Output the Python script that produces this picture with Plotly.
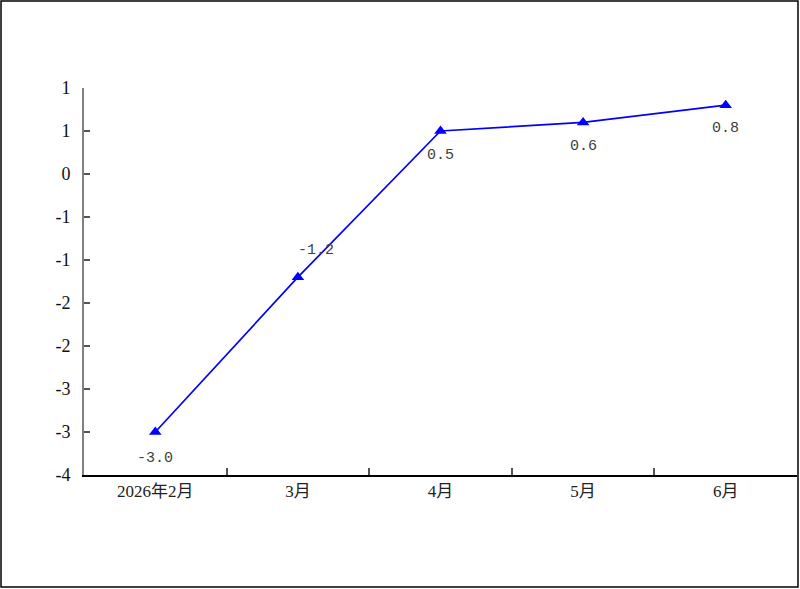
import plotly.graph_objects as go

months = ["2026年2月", "3月", "4月", "5月", "6月"]
values = [-3.0, -1.2, 0.5, 0.6, 0.8]
y_tickvals = [1.0, 0.5, 0.0, -0.5, -1.0, -1.5, -2.0, -2.5, -3.0, -3.5]
y_ticktext = ["1", "1", "0", "-1", "-1", "-2", "-2", "-3", "-3", "-4"]

# label offsets (px) relative to each point
label_shift = [(0, -26), (18, 27), (0, -24), (0, -24), (0, -23)]

fig = go.Figure()

fig.add_trace(go.Scatter(
    x=months,
    y=values,
    mode="lines+markers",
    line=dict(color="#0000FF", width=1.7),
    marker=dict(symbol="triangle-up", size=11, color="#0000FF"),
    showlegend=False,
    hoverinfo="skip",
))

for m, v, (dx, dy) in zip(months, values, label_shift):
    fig.add_annotation(
        x=m, y=v, text=f"{v:.1f}", showarrow=False,
        xshift=dx, yshift=dy,
        font=dict(family="Liberation Mono, DejaVu Sans Mono, monospace", size=15, color="#404040"),
    )

# outer frame
fig.add_shape(type="rect", xref="paper", yref="paper",
              x0=-0.1164, x1=1.0014, y0=-0.2894, y1=1.2248,
              line=dict(color="black", width=1.5))

fig.update_xaxes(
    type="category",
    range=[-0.5, 4.5],
    showline=True, linecolor="black", linewidth=1.5,
    ticks="inside", ticklen=7, tickcolor="#555555", tickwidth=1.5,
    tickson="boundaries",
    showgrid=False, zeroline=False,
    tickfont=dict(family="Liberation Serif, Noto Sans CJK SC, serif", size=17, color="#222222"),
)
fig.update_yaxes(
    range=[-3.5, 1.0],
    tickmode="array", tickvals=y_tickvals, ticktext=y_ticktext,
    showline=True, linecolor="#808080", linewidth=2,
    ticks="inside", ticklen=6, tickcolor="#555555", tickwidth=1.5,
    showgrid=False, zeroline=False,
    ticklabelstandoff=8,
    tickfont=dict(family="Liberation Serif, serif", size=18, color="#111111"),
)

fig.update_layout(
    width=800, height=589,
    margin=dict(l=84, r=3, t=88, b=114),
    plot_bgcolor="white", paper_bgcolor="white",
)

fig.write_html("out.html", config={"displayModeBar": False},
               post_script="document.body.style.margin='0';")
